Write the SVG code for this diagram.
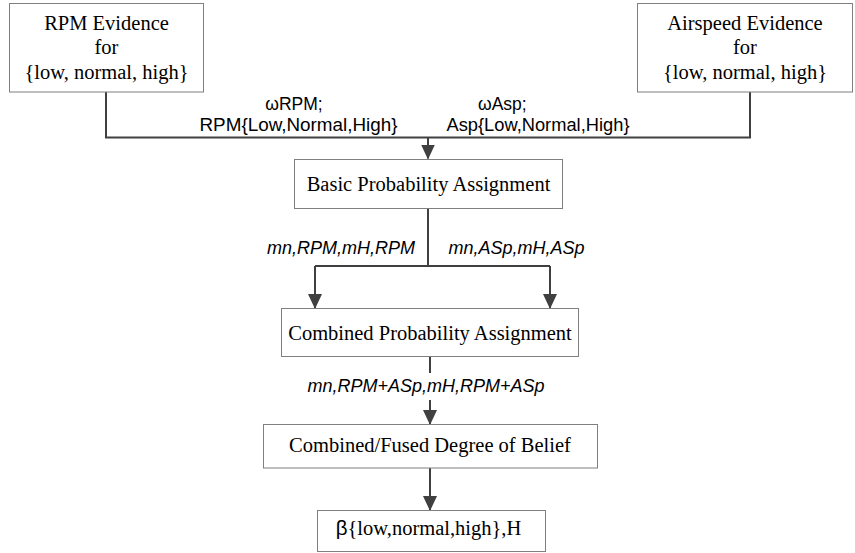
<svg xmlns="http://www.w3.org/2000/svg" width="855" height="553" viewBox="0 0 855 553">
<style>
.box{fill:#fff;stroke:#7f7f7f;stroke-width:1}
.nt{font-family:"Liberation Serif","Times New Roman",serif;font-size:20.5px;fill:#000;text-anchor:middle}
.lb{font-family:"Liberation Sans",Arial,sans-serif;font-size:17.5px;fill:#000;text-anchor:middle}
.it{font-style:italic;font-size:18px}
.cn{fill:none;stroke:#404040;stroke-width:2}
</style>
<defs>
<marker id="ah" viewBox="0 0 15 14" refX="14" refY="7" markerWidth="15" markerHeight="14" markerUnits="userSpaceOnUse" orient="auto">
<path d="M0,0 L15,7 L0,14 z" fill="#404040"/>
</marker>
</defs>
<g id="connectors">
<path class="cn" d="M106,92 V137.5 H750 V92"/>
<path class="cn" d="M428,137.5 V158.5" marker-end="url(#ah)"/>
<path class="cn" d="M428,209 V266"/>
<path class="cn" d="M315,266 H550"/>
<path class="cn" d="M315,266 V308" marker-end="url(#ah)"/>
<path class="cn" d="M550,266 V308" marker-end="url(#ah)"/>
<path class="cn" d="M430,357 V373"/>
<path class="cn" d="M430,400 V424" marker-end="url(#ah)"/>
<path class="cn" d="M430,468 V510" marker-end="url(#ah)"/>
<text class="lb" x="294" y="110">ωRPM;</text>
<text class="lb" x="298.5" y="131" textLength="198" lengthAdjust="spacingAndGlyphs">RPM{Low,Normal,High}</text>
<text class="lb" x="478" y="110" style="text-anchor:start">ωAsp;</text>
<text class="lb" x="538" y="131" textLength="183" lengthAdjust="spacingAndGlyphs">Asp{Low,Normal,High}</text>
<text class="lb it" x="341" y="254">mn,RPM,mH,RPM</text>
<text class="lb it" x="516.5" y="254">mn,ASp,mH,ASp</text>
<text class="lb it" x="426" y="392">mn,RPM+ASp,mH,RPM+ASp</text>
</g>
<g id="rpm">
<rect class="box" x="9.5" y="3.5" width="194" height="88.5"/>
<text class="nt" x="106.5" y="29.5">RPM Evidence</text>
<text class="nt" x="106.5" y="54">for</text>
<text class="nt" x="106.5" y="78.5">{low, normal, high}</text>
</g>
<g id="airspeed">
<rect class="box" x="637.5" y="3.5" width="215" height="88.5"/>
<text class="nt" x="745" y="29.5">Airspeed Evidence</text>
<text class="nt" x="745" y="54">for</text>
<text class="nt" x="745" y="78.5">{low, normal, high}</text>
</g>
<g id="bpa">
<rect class="box" x="294.5" y="159.5" width="268" height="49"/>
<text class="nt" x="428.5" y="191">Basic Probability Assignment</text>
</g>
<g id="cpa">
<rect class="box" x="281.5" y="308.5" width="297" height="48"/>
<text class="nt" x="430" y="340">Combined Probability Assignment</text>
</g>
<g id="fused">
<rect class="box" x="263.5" y="424.5" width="334" height="43.5"/>
<text class="nt" x="430" y="452">Combined/Fused Degree of Belief</text>
</g>
<g id="result">
<rect class="box" x="317.5" y="510.5" width="228" height="41"/>
<text class="nt" x="428.5" y="535"><tspan style="font-family:'Liberation Sans',Arial,sans-serif">β</tspan>{low,normal,high},H</text>
</g>
</svg>
